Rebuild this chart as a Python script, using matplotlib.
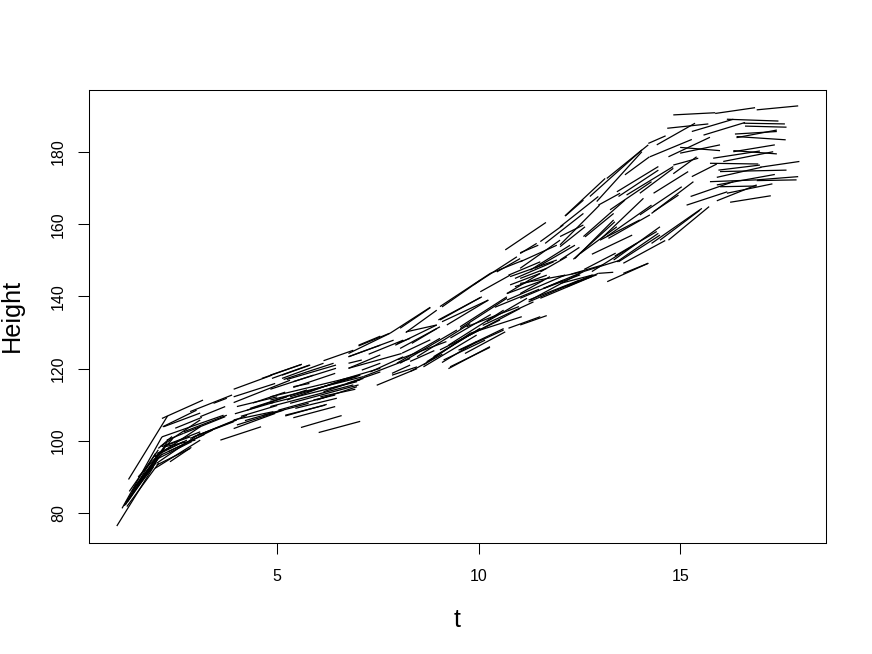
import matplotlib
matplotlib.use('agg')
import matplotlib.pyplot as plt

# segments: t start, height start, t end, height end
fan_early = [
    (1.02, 76.4, 1.93, 92.8), (1.15, 81.3, 2.14, 101.1), (1.27, 81.8, 2.06, 93.8),
    (1.23, 82.2, 2.01, 95.6), (1.31, 89.3, 2.28, 106.9), (1.45, 87.0, 2.26, 99.3),
    (1.30, 83.5, 2.10, 97.0), (1.40, 86.0, 2.20, 98.0), (1.55, 90.0, 2.40, 100.5),
    (1.25, 83.0, 2.00, 94.0), (1.28, 83.0, 2.04, 95.0), (1.35, 84.5, 2.10, 96.0),
    (1.20, 82.0, 1.98, 96.5), (1.33, 86.0, 2.05, 97.5), (1.50, 87.5, 2.15, 96.5),
]
band_2_4 = [
    (2.14, 106.2, 3.16, 111.3), (2.16, 103.9, 3.00, 108.5), (2.47, 103.5, 3.13, 106.5),
    (2.14, 101.1, 3.67, 107.1), (2.68, 102.1, 3.71, 106.7), (2.22, 98.4, 2.97, 100.2),
    (2.01, 93.3, 2.84, 97.9), (1.97, 94.7, 2.88, 99.8), (1.93, 95.6, 2.76, 100.2),
    (2.01, 96.5, 2.68, 99.8), (2.14, 98.4, 3.09, 102.5), (2.26, 98.8, 2.84, 101.1),
    (2.26, 100.2, 2.68, 102.1), (2.84, 108.1, 3.88, 112.7), (3.42, 110.4, 3.75, 111.8),
    (3.09, 106.7, 3.71, 109.5), (2.68, 102.5, 3.75, 107.1), (2.92, 101.1, 4.00, 105.8),
    (3.05, 101.6, 4.25, 107.1), (2.84, 100.7, 3.92, 105.3), (3.59, 100.2, 4.60, 103.9),
    (2.05, 97.9, 2.39, 101.2), (2.34, 94.2, 2.87, 98.2), (1.97, 92.4, 3.09, 100.2),
    (2.01, 93.8, 3.09, 102.1), (1.97, 95.6, 3.09, 103.9), (2.10, 98.4, 3.09, 105.8),
    (2.18, 103.9, 3.09, 107.7), (2.10, 96.0, 3.20, 101.8), (2.30, 97.0, 3.40, 103.0),
]
band_4_7 = [
    (3.92, 114.3, 4.87, 118.2), (4.62, 117.3, 5.61, 121.2), (5.12, 118.2, 5.82, 121.0),
    (5.12, 117.3, 6.15, 121.5), (5.24, 117.0, 6.46, 121.0), (5.40, 116.4, 6.46, 120.1),
    (3.92, 112.2, 4.95, 115.9), (3.92, 110.6, 5.32, 116.8), (4.00, 109.5, 5.00, 112.2),
    (5.40, 114.8, 6.44, 118.7), (6.15, 122.2, 6.89, 125.1), (7.02, 126.5, 7.56, 129.0),
    (6.77, 123.3, 7.56, 126.5), (6.77, 120.1, 7.56, 123.8), (7.10, 119.6, 7.56, 121.5),
    (6.56, 116.8, 7.56, 120.1), (6.73, 115.9, 7.56, 119.1), (3.92, 103.4, 4.95, 107.6),
    (4.00, 104.4, 5.16, 108.5), (3.92, 105.8, 4.91, 108.1), (4.25, 108.5, 5.24, 112.2),
    (4.33, 109.0, 5.74, 114.1), (4.66, 107.1, 5.78, 110.4), (5.03, 108.5, 6.23, 112.2),
    (5.24, 111.3, 6.73, 117.3), (5.32, 112.2, 6.98, 117.8), (5.74, 113.6, 7.06, 118.2),
    (5.98, 111.3, 6.98, 115.0), (6.07, 112.2, 6.94, 114.3), (5.20, 106.9, 6.23, 110.1),
    (5.40, 106.4, 6.44, 109.5), (5.59, 103.7, 6.60, 107.0), (6.03, 102.3, 7.06, 105.4),
    (4.83, 118.2, 5.61, 121.2), (4.87, 117.3, 5.80, 121.0), (5.16, 117.0, 6.40, 121.5),
    (4.83, 114.3, 5.90, 118.2), (6.77, 124.2, 7.80, 129.8), (6.77, 121.5, 7.10, 122.4),
    (4.83, 112.2, 7.06, 118.2), (4.83, 111.3, 7.14, 117.8), (4.83, 110.4, 6.98, 116.4),
    (4.83, 109.5, 6.89, 115.5), (5.32, 110.4, 7.02, 115.5), (5.40, 115.0, 5.80, 115.9),
    (5.45, 109.0, 6.48, 111.8), (5.20, 107.1, 6.19, 109.9), (5.90, 111.3, 6.44, 112.7),
    (6.15, 113.6, 7.14, 117.3), (6.30, 114.5, 7.06, 116.9), (4.10, 106.8, 5.00, 109.8),
    (4.20, 105.6, 5.10, 108.5), (4.40, 110.5, 5.20, 113.5), (3.95, 107.5, 4.90, 110.6),
]
band_7_12 = [
    (10.66, 152.9, 11.67, 160.5), (11.03, 152.1, 11.48, 154.2), (11.53, 155.2, 12.10, 159.8),
    (9.87, 143.2, 10.95, 151.0), (9.09, 137.1, 10.04, 144.5), (7.80, 129.8, 8.80, 137.0),
    (8.19, 130.0, 8.96, 136.2), (7.02, 126.3, 7.79, 129.8), (6.77, 123.3, 7.89, 127.9),
    (7.27, 124.0, 8.13, 127.9), (7.93, 126.5, 8.96, 132.1), (8.34, 127.0, 8.96, 131.1),
    (9.21, 132.1, 10.24, 139.0), (9.04, 133.5, 10.04, 139.7), (10.04, 141.3, 10.78, 145.9),
    (10.45, 146.8, 11.03, 150.5), (10.78, 145.5, 11.94, 150.1), (10.90, 145.0, 11.86, 149.6),
    (10.90, 142.7, 11.69, 145.9), (10.70, 140.8, 11.61, 144.5), (10.70, 139.0, 12.14, 145.9),
    (9.54, 131.1, 10.70, 139.5), (10.10, 132.0, 11.36, 138.5), (8.63, 121.0, 9.79, 129.8),
    (7.97, 121.5, 9.04, 128.4), (9.09, 121.7, 9.95, 127.5), (9.25, 120.0, 10.28, 126.1),
    (9.66, 124.2, 10.66, 130.2), (9.50, 125.1, 10.62, 131.1), (8.88, 123.3, 10.04, 131.1),
    (11.03, 132.1, 11.69, 134.7), (7.47, 115.4, 8.47, 120.0), (7.85, 118.2, 8.47, 120.5),
    (11.60, 142.2, 12.50, 146.4), (11.24, 139.0, 12.50, 144.5), (10.40, 137.0, 11.50, 142.0),
    (8.00, 122.5, 9.20, 127.5), (9.30, 128.5, 10.30, 135.0), (10.20, 133.0, 11.20, 139.5),
    (7.14, 117.8, 8.30, 122.8), (7.85, 118.7, 8.30, 121.0), (7.31, 119.1, 8.13, 123.3),
    (7.97, 127.0, 8.30, 128.4), (6.77, 120.1, 8.09, 124.2), (8.05, 131.2, 8.80, 136.9),
    (8.20, 130.2, 8.96, 132.1), (9.04, 137.2, 10.29, 146.4), (10.29, 146.4, 11.10, 150.0),
    (9.00, 133.5, 10.08, 139.9), (9.09, 133.0, 10.24, 139.0), (9.54, 131.6, 10.70, 139.9),
    (10.74, 145.9, 11.53, 149.6), (10.70, 140.8, 11.53, 146.4), (10.78, 143.2, 11.53, 146.4),
    (8.05, 125.6, 9.04, 131.6), (8.05, 121.5, 9.46, 130.7), (8.47, 123.3, 9.79, 132.5),
    (8.63, 120.5, 9.95, 129.3), (8.71, 121.9, 10.04, 131.2), (9.04, 125.2, 10.53, 133.5),
    (9.25, 126.5, 10.62, 136.2), (9.29, 120.5, 10.28, 125.9), (9.13, 122.4, 10.16, 127.9),
    (9.54, 125.2, 10.62, 130.7), (9.54, 127.9, 11.03, 136.7), (9.79, 129.8, 11.07, 134.4),
    (9.70, 131.6, 11.00, 137.2), (10.74, 131.2, 11.53, 134.4), (8.30, 122.0, 8.90, 125.0),
    (8.30, 119.2, 9.10, 124.0), (8.10, 124.3, 8.80, 128.0),
    (11.03, 147.8, 12.02, 155.6), (11.03, 151.9, 11.44, 154.7), (11.03, 149.6, 11.94, 154.2),
    (11.28, 147.3, 12.27, 154.2), (11.40, 147.8, 12.39, 154.2), (11.53, 146.8, 12.19, 151.0),
    (11.03, 145.0, 11.69, 147.8), (11.03, 143.6, 12.15, 145.9), (11.03, 140.8, 11.77, 145.5),
    (11.03, 139.5, 12.10, 144.5), (11.28, 139.0, 12.60, 146.9), (11.24, 138.5, 12.81, 145.9),
    (11.53, 139.5, 12.81, 145.5), (11.61, 142.2, 12.52, 146.0),
]
band_12_18 = [
    (14.83, 190.3, 15.87, 190.9), (15.87, 190.7, 16.86, 192.3), (16.90, 191.7, 17.93, 192.8),
    (14.68, 186.6, 15.70, 187.8), (15.29, 185.7, 16.32, 189.1), (16.16, 189.1, 17.44, 188.6),
    (15.58, 184.7, 16.61, 188.2), (16.57, 188.0, 17.60, 187.8), (16.61, 187.2, 17.64, 186.9),
    (16.36, 185.0, 17.40, 185.7), (16.40, 184.0, 17.40, 186.1), (16.40, 184.3, 17.62, 183.4),
    (14.42, 182.0, 15.37, 188.0), (14.21, 182.4, 14.64, 184.5), (14.25, 178.7, 15.29, 183.5),
    (14.71, 178.7, 15.74, 184.1), (15.00, 181.3, 15.99, 180.4), (15.00, 179.7, 15.99, 182.0),
    (16.32, 180.1, 17.35, 182.0), (15.82, 178.3, 16.98, 180.3), (16.07, 177.4, 17.31, 180.1),
    (16.32, 180.4, 17.40, 179.5), (15.74, 176.9, 16.94, 176.7), (16.98, 175.8, 17.96, 177.4),
    (15.99, 174.6, 17.64, 175.0), (15.95, 175.0, 16.98, 176.4), (15.91, 173.0, 17.02, 175.8),
    (15.74, 171.8, 16.90, 172.3), (16.90, 172.3, 17.93, 173.2), (16.90, 172.1, 17.89, 172.3),
    (15.91, 170.9, 17.35, 173.8), (15.99, 170.4, 16.90, 170.6), (15.26, 167.7, 16.32, 171.8),
    (15.16, 165.3, 16.17, 169.0), (15.91, 166.5, 16.90, 170.9), (16.24, 166.1, 17.25, 167.9),
    (16.16, 168.6, 17.29, 171.2), (15.29, 173.2, 15.91, 176.7), (13.63, 173.7, 14.24, 178.7),
    (13.18, 172.7, 14.21, 182.0), (12.76, 167.7, 14.05, 180.6), (12.93, 166.3, 14.05, 180.1),
    (12.14, 162.3, 13.14, 172.7), (12.02, 159.3, 12.97, 167.7), (12.97, 165.3, 13.51, 168.6),
    (13.43, 169.0, 14.46, 176.0), (13.47, 167.7, 14.46, 175.0), (13.67, 168.1, 14.83, 176.0),
    (14.00, 168.6, 14.83, 175.5), (14.83, 174.0, 15.41, 178.7), (14.83, 176.4, 15.45, 178.3),
    (14.34, 168.6, 15.20, 174.6), (13.26, 164.0, 14.29, 171.8), (13.05, 156.1, 14.09, 167.2),
    (13.18, 156.6, 14.29, 165.3), (14.00, 162.6, 15.04, 170.4), (14.29, 163.0, 15.33, 171.8),
    (14.34, 163.5, 14.96, 168.1), (13.22, 156.1, 14.25, 162.6), (12.60, 156.6, 13.63, 166.7),
    (12.02, 154.3, 13.00, 165.3), (12.35, 150.3, 13.38, 160.7), (12.81, 151.7, 13.81, 157.0),
    (12.02, 150.1, 12.50, 153.6), (13.38, 151.2, 14.42, 158.0), (13.43, 149.6, 14.46, 157.5),
    (13.59, 149.2, 14.63, 155.5), (12.81, 146.9, 13.92, 154.7), (14.29, 154.7, 15.54, 164.4),
    (14.71, 155.6, 15.72, 164.9), (14.50, 155.6, 15.49, 163.9), (13.19, 144.1, 14.21, 149.2),
    (13.59, 146.4, 14.21, 149.2), (12.97, 146.4, 13.34, 146.7), (12.02, 145.5, 12.60, 146.9),
    (12.02, 142.3, 12.93, 146.0), (12.02, 143.6, 12.85, 146.0), (12.19, 142.7, 12.97, 146.4),
    (12.02, 156.6, 12.60, 159.8), (12.02, 153.8, 12.64, 159.3),
    (11.65, 154.7, 12.60, 163.0), (12.15, 162.3, 12.60, 166.7), (12.64, 156.5, 13.35, 163.0),
    (12.39, 150.5, 13.35, 161.2), (12.52, 151.9, 13.43, 159.3), (13.01, 155.6, 14.00, 161.2),
    (13.35, 150.1, 14.50, 159.3), (13.47, 149.6, 14.50, 157.0), (12.30, 146.2, 13.10, 148.8),
    (12.62, 147.5, 13.40, 152.0), (12.60, 146.9, 13.50, 150.0),
]

fig = plt.figure(figsize=(8.72, 6.54), dpi=100)
plt.rcParams['font.family'] = ['Liberation Sans', 'DejaVu Sans']
ax = fig.add_axes([89 / 872, 1 - 543 / 654, 737 / 872, 453 / 654])

for group in [fan_early, band_2_4, band_4_7, band_7_12, band_12_18]:
    for t0, h0, t1, h1 in group:
        ax.plot([t0, t1], [h0, h1], color='black', lw=0.9, solid_capstyle='butt')

ax.set_xlim(0.33, 18.62)
ax.set_ylim(71.7, 197.2)
ax.set_xticks([5, 10, 15])
ax.set_yticks([80, 100, 120, 140, 160, 180])
ax.tick_params(length=8, width=0.75, labelsize=11.5, pad=11)
ax.tick_params(axis='y', pad=8.5)
for label in ax.get_yticklabels():
    label.set_rotation(90)
    label.set_va('center')
for side in ax.spines.values():
    side.set_linewidth(0.75)
ax.set_xlabel('t', fontsize=18, labelpad=17)
ax.set_ylabel('Height', fontsize=18.2)
ax.yaxis.set_label_coords(-0.0882, 0.503)

fig.savefig('out.png', dpi=100)
